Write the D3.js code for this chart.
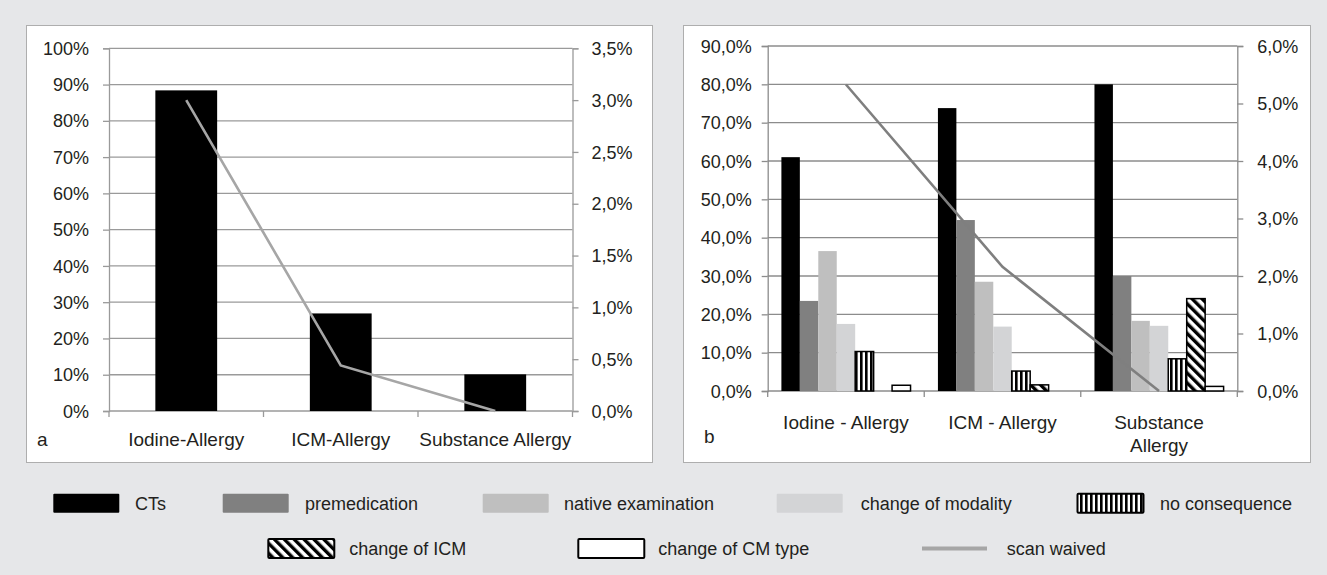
<!DOCTYPE html>
<html>
<head>
<meta charset="utf-8">
<script src="https://cdn.jsdelivr.net/npm/d3@7"></script>
<style>
  body { margin: 0; background: #e6e7e9; }
  svg { display: block; font-family: "Liberation Sans", Arial, sans-serif; }
  .tick text { fill: #231f20; }
</style>
</head>
<body>
<script>
// chart a
var categoriesA = ["Iodine-Allergy", "ICM-Allergy", "Substance Allergy"];
var ctsA = [88.4, 26.9, 10.1];
var scanWaivedA = [3.0, 0.44, 0.0];
var ticksA = [0, 10, 20, 30, 40, 50, 60, 70, 80, 90, 100];
var ticksA2 = [0, 0.5, 1, 1.5, 2, 2.5, 3, 3.5];

// chart b
var categoriesB = ["Iodine - Allergy", "ICM - Allergy", "Substance Allergy"];
var seriesB = ["CTs", "premedication", "native examination", "change of modality",
  "no consequence", "change of ICM", "change of CM type"];
var ctsB = [61.0, 73.8, 80.0];
var premedicationB = [23.5, 44.6, 30.0];
var nativeB = [36.5, 28.5, 18.3];
var modalityB = [17.5, 16.8, 17.0];
var noConsequenceB = [10.3, 5.2, 8.4];
var changeIcmB = [0, 1.6, 24.1];
var cmTypeB = [1.5, 0, 1.2];
var scanWaivedB = [5.33, 2.16, 0.0];
var ticksB = [0, 10, 20, 30, 40, 50, 60, 70, 80, 90];
var ticksB2 = [0, 1, 2, 3, 4, 5, 6];

var valuesB = [ctsB, premedicationB, nativeB, modalityB, noConsequenceB, changeIcmB, cmTypeB];
var fills = {
  "CTs": "#000000",
  "premedication": "#808080",
  "native examination": "#bfbfbf",
  "change of modality": "#d3d4d6",
  "no consequence": "url(#vstripe)",
  "change of ICM": "url(#dstripe)",
  "change of CM type": "#ffffff"
};
var outlined = { "no consequence": true, "change of ICM": true, "change of CM type": true };

var textColor = "#231f20";
var de = d3.formatLocale({ decimal: ",", thousands: ".", grouping: [3], currency: ["", "€"] });
var fmt0 = function (d) { return d + "%"; };
var fmt1 = function (d) { return de.format(".1f")(d) + "%"; };

var svg = d3.select("body").append("svg").attr("width", 1327).attr("height", 575);

var defs = svg.append("defs");
var vp = defs.append("pattern").attr("id", "vstripe").attr("patternUnits", "userSpaceOnUse")
  .attr("width", 5).attr("height", 10);
vp.append("rect").attr("width", 5).attr("height", 10).attr("fill", "#fff");
vp.append("rect").attr("width", 2.6).attr("height", 10).attr("fill", "#000");
var dp = defs.append("pattern").attr("id", "dstripe").attr("patternUnits", "userSpaceOnUse")
  .attr("width", 7).attr("height", 10).attr("patternTransform", "rotate(-45)");
dp.append("rect").attr("width", 7).attr("height", 10).attr("fill", "#fff");
dp.append("rect").attr("width", 3.4).attr("height", 10).attr("fill", "#000");

svg.append("rect").attr("width", 1327).attr("height", 575).attr("fill", "#e6e7e9");

function panel(x, y, w, h) {
  svg.append("rect").attr("x", x).attr("y", y).attr("width", w).attr("height", h)
    .attr("fill", "#fff").attr("stroke", "#aeaeae").attr("stroke-width", 1);
}
panel(26.5, 25.5, 626, 437);
panel(683.5, 25.5, 627, 437);

function drawFrame(x, y, y2, ticks, ticks2, f1, f2, gridColor, pad1, pad2) {
  var x0 = x.range()[0], x1 = x.range()[1];
  var g = svg.append("g");
  g.selectAll(".grid").data(ticks.slice(1)).enter().append("line")
    .attr("x1", x0).attr("x2", x1)
    .attr("y1", function (d) { return y(d); }).attr("y2", function (d) { return y(d); })
    .attr("stroke", gridColor).attr("stroke-width", 1.3);

  var left = g.append("g").attr("transform", "translate(" + x0 + ",0)")
    .call(d3.axisLeft(y).tickValues(ticks).tickFormat(f1).tickSize(6).tickPadding(pad1));
  var right = g.append("g").attr("transform", "translate(" + x1 + ",0)")
    .call(d3.axisRight(y2).tickValues(ticks2).tickFormat(f2).tickSize(6).tickPadding(pad2));
  [left, right].forEach(function (a) {
    a.select(".domain").attr("stroke", gridColor).attr("stroke-width", 1.3);
    a.selectAll(".tick line").attr("stroke", gridColor).attr("stroke-width", 1.3);
    a.selectAll(".tick text").style("font-size", "18px").attr("dy", "0.34em");
  });

  var base = y(0);
  var bounds = x.domain().map(function (d) { return x(d); }).concat([x1]);
  g.append("line").attr("x1", x0).attr("x2", x1).attr("y1", base).attr("y2", base)
    .attr("stroke", gridColor).attr("stroke-width", 1.5);
  g.selectAll(".bt").data(bounds).enter().append("line")
    .attr("x1", function (d) { return d; }).attr("x2", function (d) { return d; })
    .attr("y1", base).attr("y2", base + 6)
    .attr("stroke", gridColor).attr("stroke-width", 1.3);
  return g;
}

// ---------- chart a ----------
var xA = d3.scaleBand().domain(categoriesA).range([109, 572.5]);
var yA = d3.scaleLinear().domain([0, 100]).range([411, 48.3]);
var yA2 = d3.scaleLinear().domain([0, 3.5]).range([411, 48.3]);

drawFrame(xA, yA, yA2, ticksA, ticksA2, fmt0, fmt1, "#9a9a9a", 14, 13);

var barW = xA.bandwidth() * 0.4;
svg.append("g").selectAll("rect").data(categoriesA).enter().append("rect")
  .attr("x", function (d) { return xA(d) + (xA.bandwidth() - barW) / 2; })
  .attr("width", barW)
  .attr("y", function (d, i) { return yA(ctsA[i]); })
  .attr("height", function (d, i) { return yA(0) - yA(ctsA[i]); })
  .attr("fill", "#000");

svg.append("path").datum(scanWaivedA)
  .attr("d", d3.line()
    .x(function (d, i) { return xA(categoriesA[i]) + xA.bandwidth() / 2; })
    .y(function (d) { return yA2(d); }))
  .attr("fill", "none").attr("stroke", "#a6a6a6").attr("stroke-width", 2.6);

svg.append("g").selectAll("text").data(categoriesA).enter().append("text")
  .attr("x", function (d) { return xA(d) + xA.bandwidth() / 2; })
  .attr("y", 446).attr("text-anchor", "middle")
  .style("font-size", "19px").attr("fill", textColor)
  .text(function (d) { return d; });
svg.append("text").attr("x", 37).attr("y", 446).style("font-size", "19px")
  .attr("fill", textColor).text("a");

// ---------- chart b ----------
var xB = d3.scaleBand().domain(categoriesB).range([767.7, 1237.3]);
var yB = d3.scaleLinear().domain([0, 90]).range([391, 46]);
var yB2 = d3.scaleLinear().domain([0, 6]).range([391, 46]);
var inner = d3.scaleBand().domain(seriesB)
  .range([xB.bandwidth() * 0.0875, xB.bandwidth() * 0.9125]);

drawFrame(xB, yB, yB2, ticksB, ticksB2, fmt1, fmt1, "#8c8c8c", 10, 14);

var cells = [];
categoriesB.forEach(function (c, ci) {
  seriesB.forEach(function (s, si) {
    if (valuesB[si][ci] > 0) cells.push({ cat: c, series: s, value: valuesB[si][ci] });
  });
});
svg.append("g").selectAll("rect").data(cells).enter().append("rect")
  .attr("x", function (d) { return xB(d.cat) + inner(d.series); })
  .attr("width", inner.bandwidth())
  .attr("y", function (d) { return yB(d.value); })
  .attr("height", function (d) { return yB(0) - yB(d.value); })
  .attr("fill", function (d) { return fills[d.series]; })
  .attr("stroke", function (d) { return outlined[d.series] ? "#000" : "none"; })
  .attr("stroke-width", 1.5);

svg.append("path").datum(scanWaivedB)
  .attr("d", d3.line()
    .x(function (d, i) { return xB(categoriesB[i]) + xB.bandwidth() / 2; })
    .y(function (d) { return yB2(d); }))
  .attr("fill", "none").attr("stroke", "#7f7f7f").attr("stroke-width", 2.6);

var labelsB = svg.append("g").selectAll("text").data(categoriesB).enter().append("text")
  .attr("x", function (d) { return xB(d) + xB.bandwidth() / 2; })
  .attr("y", 428.5).attr("text-anchor", "middle")
  .style("font-size", "19px").attr("fill", textColor)
  .text(function (d) { return d; });
labelsB.each(function (d) {
  var t = d3.select(this);
  if (this.getComputedTextLength() > xB.bandwidth() * 0.88) {
    var words = d.split(" ");
    t.text(null);
    words.forEach(function (w, i) {
      t.append("tspan").attr("x", xB(d) + xB.bandwidth() / 2)
        .attr("dy", i === 0 ? 0 : 23.5).text(w);
    });
  }
});
svg.append("text").attr("x", 704).attr("y", 443).style("font-size", "19px")
  .attr("fill", textColor).text("b");

// ---------- legend ----------
var legendItems = [
  { name: "CTs", x: 53.3, tx: 135, y: 503.3 },
  { name: "premedication", x: 222.7, tx: 305, y: 503.3 },
  { name: "native examination", x: 482.7, tx: 564, y: 503.3 },
  { name: "change of modality", x: 776.7, tx: 860.7, y: 503.3 },
  { name: "no consequence", x: 1077.5, tx: 1160, y: 503.3 },
  { name: "change of ICM", x: 268.3, tx: 349.3, y: 548.5 },
  { name: "change of CM type", x: 578.3, tx: 658.3, y: 548.5 },
  { name: "scan waived", x: 922, tx: 1006.8, y: 548.5, line: true }
];
var lg = svg.append("g").selectAll("g").data(legendItems).enter().append("g");
lg.filter(function (d) { return !d.line; }).append("rect")
  .attr("x", function (d) { return d.x; })
  .attr("y", function (d) { return d.y - 9.5; })
  .attr("width", 66).attr("height", 19)
  .attr("rx", 1)
  .attr("fill", function (d) { return fills[d.name]; })
  .attr("stroke", function (d) { return outlined[d.name] ? "#000" : "none"; })
  .attr("stroke-width", 2);
lg.filter(function (d) { return d.line; }).append("line")
  .attr("x1", function (d) { return d.x; }).attr("x2", function (d) { return d.x + 65; })
  .attr("y1", function (d) { return d.y; }).attr("y2", function (d) { return d.y; })
  .attr("stroke", "#a6a6a6").attr("stroke-width", 4);
lg.append("text")
  .attr("x", function (d) { return d.tx; })
  .attr("y", function (d) { return d.y; })
  .attr("dy", "0.35em")
  .style("font-size", "18px").attr("fill", textColor)
  .text(function (d) { return d.name; });
</script>
</body>
</html>
